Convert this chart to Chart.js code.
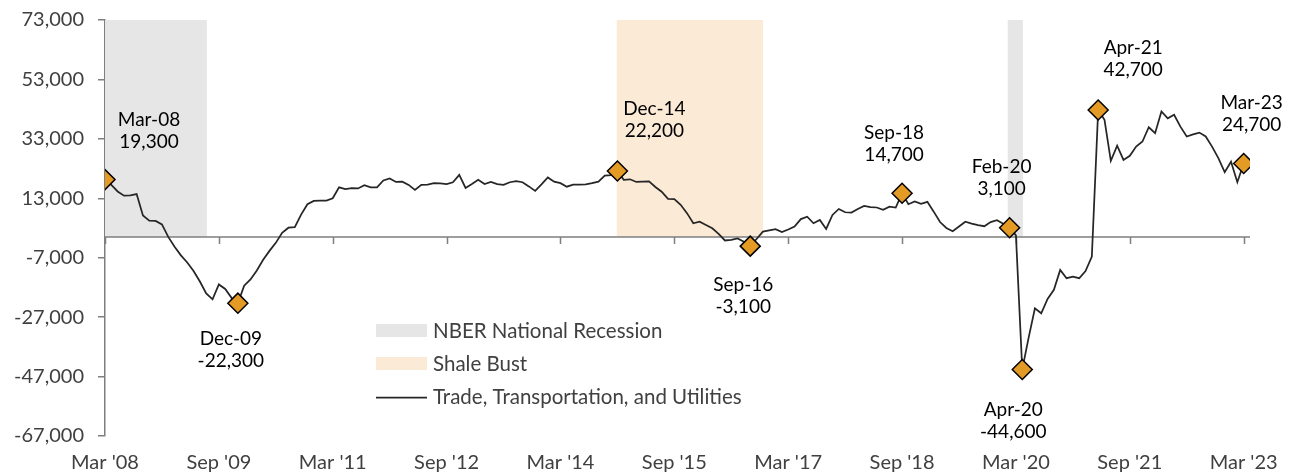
<!DOCTYPE html>
<html>
<head>
<meta charset="utf-8">
<script src="https://cdn.jsdelivr.net/npm/chart.js@4.4.1/dist/chart.umd.min.js"></script>
<style>
  html, body { margin: 0; padding: 0; background: #fff; overflow: hidden; }
</style>
</head>
<body>
<canvas id="chart" width="1293" height="476"></canvas>
<script>
// monthly y/y change in jobs, Mar 2008 .. Mar 2023 (index 0 = Mar 2008)
const tradeTransUtil = [
    19300, 17500, 15300, 13900, 14000, 14400, 7200, 5500, 5400, 4200, 0, -3300,
    -6200, -8600, -11500, -15000, -19000, -21000, -16000, -17500, -20500, -22300, -16400, -14300,
    -11300, -7700, -4700, -2000, 1400, 3100, 3300, 7500, 11000, 12100, 12200, 12200,
    13000, 16700, 16100, 16400, 16300, 17400, 16700, 16700, 19000, 19700, 18500, 18600,
    17500, 15800, 17500, 17600, 18100, 18000, 17800, 18400, 20900, 16500, 17800, 19200,
    17800, 18500, 17800, 17500, 18400, 18800, 18400, 17000, 15500, 17700, 20000, 18600,
    18100, 16900, 17600, 17600, 17700, 18100, 18600, 20600, 20800, 22200, 19200, 19400,
    18500, 18600, 18700, 16800, 15200, 12800, 12700, 10800, 8000, 4600, 5100, 4000,
    2900, 1000, -1200, -1000, -500, -1600, -3100, -700, 1800, 2200, 2600, 1600,
    2500, 3500, 6000, 6800, 4600, 5700, 2700, 7400, 9400, 8300, 8200, 9400,
    10400, 10000, 9900, 9100, 10200, 9900, 14700, 11000, 11900, 11100, 11800, 8500,
    5000, 3000, 1900, 3500, 5100, 4500, 4000, 3600, 5000, 5600, 4400, 3100,
    500, -44600, -34000, -24000, -25700, -20900, -17800, -11100, -13900, -13400, -13900, -11500,
    -6600, 42700, 39400, 25600, 30700, 25900, 27300, 30400, 32100, 36900, 34900, 42200,
    39900, 41100, 37100, 33800, 34500, 35100, 33800, 30400, 26500, 21800, 25300, 18400,
    24700
];

const xTickValues = [0, 18, 36, 54, 72, 90, 108, 126, 144, 162, 180];
const xTickLabels = ["Mar '08", "Sep '09", "Mar '11", "Sep '12", "Mar '14", "Sep '15",
                     "Mar '17", "Sep '18", "Mar '20", "Sep '21", "Mar '23"];
const yMin = -67000;
const yMax = 73000;
const yStep = 20000;

const highlightIdx = [0, 21, 81, 102, 126, 143, 145, 157, 180];
const highlightNames = ['Mar-08', 'Dec-09', 'Dec-14', 'Sep-16', 'Sep-18', 'Feb-20', 'Apr-20', 'Apr-21', 'Mar-23'];

// shaded periods, in month index
const recessionBands = [[0, 16.1], [142.7, 145.1]];
const shaleBands = [[80.9, 104]];

const legendNames = ['NBER National Recession', 'Shale Bust', 'Trade, Transportation, and Utilities'];

// where each callout sits relative to its marker (px)
const calloutOffsets = [[44, -60], [-7, 36], [37, -62], [-7, 39], [-8, -60], [-8, -61], [-9, 40], [35, -62], [8, -61]];

const FONT = 'Lato';
const GRAY_BAND = '#e6e6e6';
const SHALE_BAND = '#fbead6';
const LINE_COLOR = '#262626';
const AXIS_COLOR = '#7f7f7f';
const TEXT_COLOR = '#404040';

const overlay = {
    id: 'overlay',
    beforeDatasetsDraw(chart) {
        const { ctx, chartArea } = chart;
        const x = chart.scales.x, y = chart.scales.y;
        const top = y.getPixelForValue(yMax);
        const zero = y.getPixelForValue(0);
        ctx.save();
        const drawBands = (list, color) => {
            list.forEach(([a, b]) => {
                const x0 = x.getPixelForValue(a), x1 = x.getPixelForValue(b);
                ctx.fillStyle = color;
                ctx.fillRect(x0, top, x1 - x0, zero - top);
            });
        };
        drawBands(recessionBands, GRAY_BAND);
        drawBands(shaleBands, SHALE_BAND);

        // zero line with the month tick marks
        ctx.strokeStyle = AXIS_COLOR;
        ctx.lineWidth = 1.5;
        ctx.beginPath();
        ctx.moveTo(chartArea.left, zero);
        ctx.lineTo(chartArea.right, zero);
        xTickValues.forEach(v => {
            const px = Math.round(x.getPixelForValue(v)) + 0.5;
            ctx.moveTo(px, zero);
            ctx.lineTo(px, zero + 7);
        });
        ctx.stroke();
        ctx.restore();
    },
    afterDatasetsDraw(chart) {
        const { ctx } = chart;
        const x = chart.scales.x, y = chart.scales.y;
        ctx.save();

        // callouts
        ctx.font = `19px ${FONT}`;
        ctx.fillStyle = '#000';
        ctx.textAlign = 'center';
        ctx.textBaseline = 'middle';
        highlightIdx.forEach((idx, k) => {
            const px = x.getPixelForValue(idx);
            const py = y.getPixelForValue(tradeTransUtil[idx]);
            const [dx, dy] = calloutOffsets[k];
            ctx.fillText(highlightNames[k], px + dx, py + dy);
            ctx.fillText(tradeTransUtil[idx].toLocaleString('en-US'), px + dx, py + dy + 22);
        });

        // legend
        ctx.font = `20.5px ${FONT}`;
        ctx.textAlign = 'left';
        ctx.fillStyle = GRAY_BAND;
        ctx.fillRect(376, 324, 51, 13);
        ctx.fillStyle = SHALE_BAND;
        ctx.fillRect(376, 357, 51, 13);
        ctx.strokeStyle = LINE_COLOR;
        ctx.lineWidth = 1.75;
        ctx.beginPath();
        ctx.moveTo(376, 397.5);
        ctx.lineTo(427, 397.5);
        ctx.stroke();
        ctx.fillStyle = TEXT_COLOR;
        ctx.fillText(legendNames[0], 433, 331);
        ctx.fillText(legendNames[1], 433, 364);
        ctx.fillText(legendNames[2], 433, 397);

        ctx.restore();
    }
};

const ctx = document.getElementById('chart').getContext('2d');
new Chart(ctx, {
    type: 'line',
    data: {
        datasets: [
            {
                label: 'highlights',
                data: highlightIdx.map(i => ({ x: i, y: tradeTransUtil[i] })),
                showLine: false,
                pointStyle: 'rectRot',
                pointRadius: 10,
                pointBackgroundColor: '#e39b26',
                pointBorderColor: '#000',
                pointBorderWidth: 1.5,
                order: 0
            },
            {
                label: legendNames[2],
                data: tradeTransUtil.map((v, i) => ({ x: i, y: v })),
                borderColor: LINE_COLOR,
                borderWidth: 1.75,
                pointRadius: 0,
                tension: 0,
                order: 1
            }
        ]
    },
    options: {
        responsive: false,
        animation: false,
        devicePixelRatio: 1,
        layout: { padding: { top: 20, right: 43, left: 0, bottom: 0 } },
        plugins: {
            legend: { display: false },
            tooltip: { enabled: false },
            title: { display: false }
        },
        scales: {
            x: {
                type: 'linear',
                min: 0,
                max: 181,
                afterBuildTicks: scale => { scale.ticks = xTickValues.map(v => ({ value: v })); },
                afterFit: scale => { scale.height = 40; },
                grid: { display: false, drawTicks: false },
                border: { display: false },
                ticks: {
                    autoSkip: false,
                    maxRotation: 0,
                    padding: 15,
                    color: TEXT_COLOR,
                    font: { family: FONT, size: 20 },
                    callback: (v, i) => xTickLabels[i]
                }
            },
            y: {
                min: yMin,
                max: yMax,
                afterFit: scale => {
                    scale.width = 105;
                    scale.paddingTop = 0;
                    scale.paddingBottom = 0;
                },
                grid: { drawOnChartArea: false, drawTicks: true, tickLength: 7, color: AXIS_COLOR, lineWidth: 1.5 },
                border: { color: AXIS_COLOR, width: 1.5 },
                ticks: {
                    stepSize: yStep,
                    padding: 14,
                    color: TEXT_COLOR,
                    font: { family: FONT, size: 20 },
                    callback: v => v.toLocaleString('en-US')
                }
            }
        }
    },
    plugins: [overlay]
});
</script>
</body>
</html>
